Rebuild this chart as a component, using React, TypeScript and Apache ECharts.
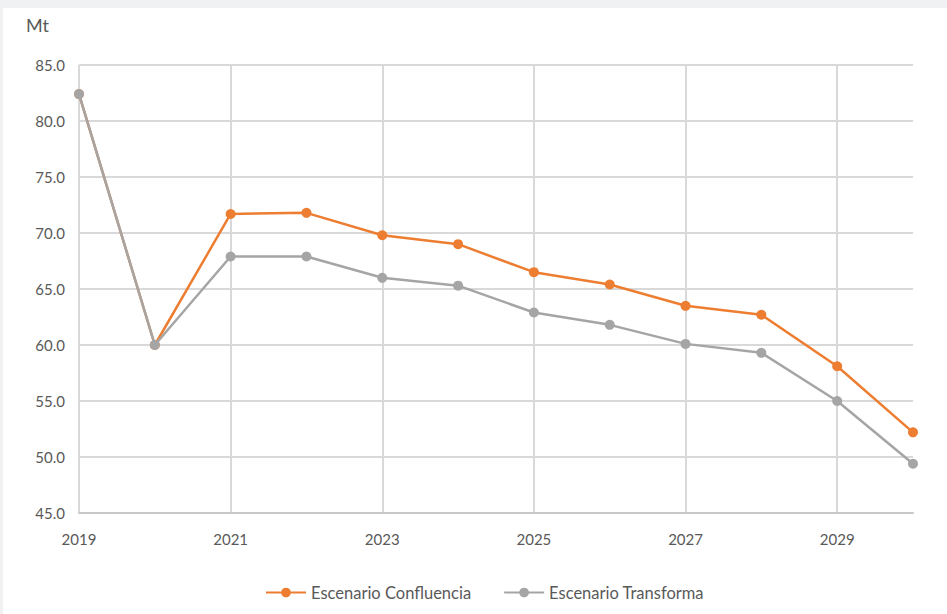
import React, { useEffect, useRef } from "react";
import * as echarts from "echarts";

const years = ["2019", "2020", "2021", "2022", "2023", "2024", "2025", "2026", "2027", "2028", "2029", "2030"];
const confluencia = [82.4, 60.0, 71.7, 71.8, 69.8, 69.0, 66.5, 65.4, 63.5, 62.7, 58.1, 52.2];
const transforma = [82.4, 60.0, 67.9, 67.9, 66.0, 65.3, 62.9, 61.8, 60.1, 59.3, 55.0, 49.4];
const seriesNames = ["Escenario Confluencia", "Escenario Transforma"];
const unitLabel = "Mt";

const FONT = "Lato, 'Open Sans', sans-serif";
const TEXT = "#595959";

export default function App() {
  const ref = useRef<HTMLDivElement>(null);
  useEffect(() => {
    if (!ref.current) return;
    const chart = echarts.init(ref.current, null, { renderer: "svg" });
    chart.setOption({
      animation: false,
      backgroundColor: "#ffffff",
      textStyle: { fontFamily: FONT, color: TEXT },
      title: {
        text: unitLabel,
        left: 18,
        top: 3,
        textStyle: { fontFamily: FONT, fontSize: 18, fontWeight: "normal", color: TEXT },
      },
      grid: { left: 76, right: 34, top: 57, bottom: 101, containLabel: false },
      legend: {
        data: seriesNames,
        left: 257,
        top: 571,
        itemWidth: 40,
        itemHeight: 12,
        itemGap: 32,
        textStyle: { fontFamily: FONT, fontSize: 16.5, color: TEXT },
      },
      xAxis: {
        type: "category",
        data: years,
        boundaryGap: false,
        axisLine: { show: true, lineStyle: { color: "#c8c8c8", width: 2 } },
        axisTick: { show: false },
        axisLabel: {
          interval: 1,
          margin: 18,
          fontSize: 15,
          color: TEXT,
          fontFamily: FONT,
        },
        splitLine: {
          show: true,
          interval: 1,
          lineStyle: { color: "#d9d9d9", width: 2 },
        },
      },
      yAxis: {
        type: "value",
        min: 45,
        max: 85,
        interval: 5,
        axisLine: { show: false },
        axisTick: { show: false },
        axisLabel: {
          margin: 14,
          fontSize: 15,
          color: TEXT,
          fontFamily: FONT,
          formatter: (v: number) => v.toFixed(1),
        },
        splitLine: { show: true, lineStyle: { color: "#d9d9d9", width: 2 } },
      },
      series: [
        {
          name: seriesNames[0],
          type: "line",
          data: confluencia,
          symbol: "circle",
          symbolSize: 10,
          itemStyle: { color: "#ed7d31" },
          lineStyle: { color: "#ed7d31", width: 2.5 },
          z: 2,
        },
        {
          name: seriesNames[1],
          type: "line",
          data: transforma,
          symbol: "circle",
          symbolSize: 10,
          itemStyle: { color: "#a5a5a5" },
          lineStyle: { color: "#a5a5a5", width: 2.5 },
          z: 3,
        },
      ],
    });
    return () => chart.dispose();
  }, []);

  return (
    <div
      style={{
        position: "absolute",
        left: 0,
        top: 0,
        width: 947,
        height: 614,
        background: "#f0f1f3",
      }}
    >
      <div
        ref={ref}
        style={{ position: "absolute", left: 3, top: 8, width: 944, height: 606 }}
      />
    </div>
  );
}
